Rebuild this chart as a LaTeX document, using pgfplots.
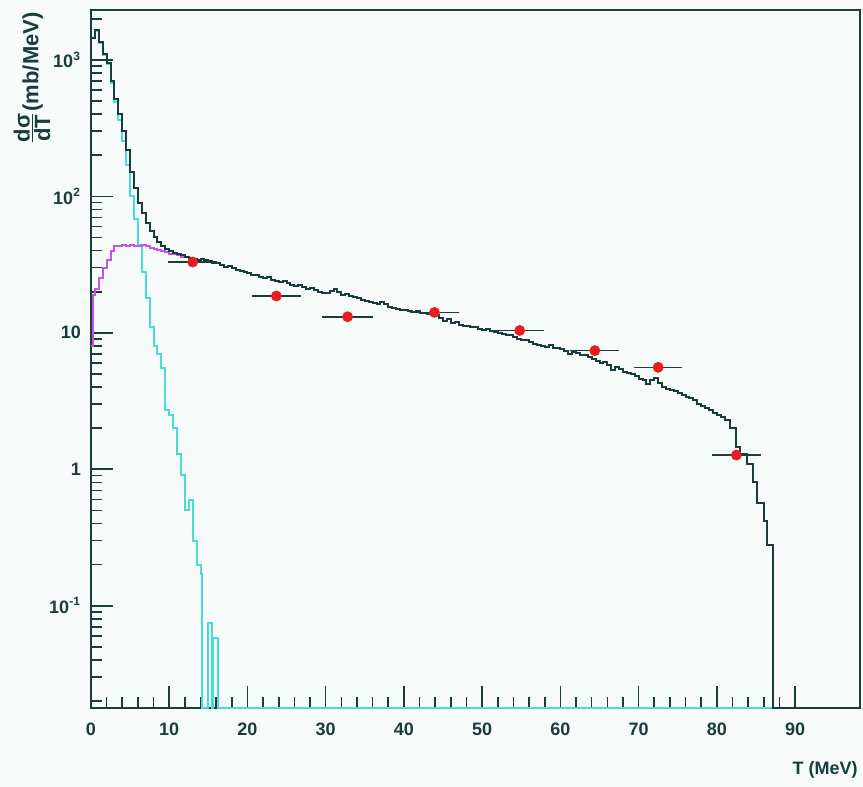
\documentclass[border=0pt]{standalone}
\usepackage{fontspec}
\setmainfont{Liberation Sans}
\usepackage{pgfplots}
\pgfplotsset{compat=1.18}
\definecolor{axcol}{RGB}{25,60,60}
\definecolor{bgcol}{RGB}{246,250,248}
\definecolor{cyanh}{RGB}{70,220,220}
\definecolor{magh}{RGB}{195,85,225}
\definecolor{redpt}{RGB}{230,30,30}
\begin{document}
\begin{tikzpicture}
\path[use as bounding box, fill=bgcol] (-45.5pt,-39.5pt) rectangle (386pt,354pt);
\begin{axis}[
  at={(0,0)}, anchor=south west,
  scale only axis, width=384.5pt, height=349pt,
  xmin=0, xmax=98.3, ymode=log, ymin=0.0178, ymax=2320,
  axis line style={line width=0.9pt, draw=axcol},
  tick style={line width=0.8pt, draw=axcol},
  tick align=inside, xtick pos=left, ytick pos=left,
  xtick={0,10,...,90}, minor x tick num=4,
  ytick={0.1,1,10,100,1000},
  yticklabels={10\textsuperscript{-1},1,10,10\textsuperscript{2},10\textsuperscript{3}},
  minor ytick={0.02,0.03,0.04,0.05,0.06,0.07,0.08,0.09,0.2,0.3,0.4,0.5,0.6,0.7,0.8,0.9,2,3,4,5,6,7,8,9,20,30,40,50,60,70,80,90,200,300,400,500,600,700,800,900,2000},
  major tick length=11pt, minor tick length=5.5pt,
  tick label style={font=\fontsize{9}{10}\selectfont\bfseries, text=axcol},
  /pgf/number format/assume math mode=true,
  xticklabel style={yshift=-4pt},
  yticklabel style={xshift=-1.5pt},
  clip=false,
]
% cyan component
\addplot[const plot, draw=cyanh, line width=1pt] coordinates {
(0,1440)(0.5,1630)(1,1330)(1.5,1080)(2,930)(2.5,680)(3,490)(3.5,360)(4,255)(4.5,170)(5,100)(5.5,68)(6,44)(6.5,28)(7,18)(7.5,11)(8,8)(8.5,7)(9,5.5)(9.5,2.7)(10,2.5)(10.5,2.0)(11,1.3)(11.5,0.9)(12,0.5)(12.5,0.6)(13,0.3)(13.5,0.2)(14,0.17)(14.2,0.0178)(14.9,0.075)(15.5,0.0178)(15.6,0.058)(16.2,0.0178)(98.3,0.0178)
};
% magenta component
\addplot[const plot, draw=magh, line width=1pt] coordinates {
(0,8)(0.25,19)(0.5,21)(1,25)(1.5,30)(2,34)(2.5,40)(3,43)(3.5,43.5)(4,44)(4.5,43)(5,44)(5.5,43)(6,43.5)(6.5,44)(7,43)(7.5,42)(8,41)(8.5,40.5)(9,40)(9.5,39)(10,38)(10.5,37.5)(11,37)(11.5,36)(12,36)
};
% total
\addplot[const plot, draw=axcol, line width=1pt] coordinates {
(0,1450)(0.5,1650)(1,1350)(1.5,1100)(2,950)(2.5,700)(3,520)(3.5,400)(4,300)(4.5,220)(5,150)(5.5,115)(6,90)(6.5,75)(7,64)(7.5,56)(8,50)(8.5,46)(9,43)(9.5,41)(10,39.5)(10.5,38.5)(11,38)(11.5,37)
(12,36)(12.5,35.5)(13,35)(13.5,34)(14,35)(14.5,34)(15,33.5)(15.5,32.5)(16,32.5)(16.5,31.5)(17,30.5)(17.5,31)(18,30)(18.5,29)(19,28.5)(19.5,28)(20,27.5)(20.5,26.5)(21,26.5)(21.5,25.5)(22,25)(22.5,25.5)(23,24.2)(23.5,23.8)(24,23.5)(24.5,23.8)(25,23)(25.5,22.5)(26,22)(26.5,22.3)(27,21.5)(27.5,21)(28,21.2)(28.5,20.5)(29,20)(29.5,19.6)(30,19.5)(30.5,20.3)(31,20.8)(31.5,20)(32,19)(32.5,19.2)(33,18.5)(33.5,18.3)(34,18)(34.5,17.4)(35,17.2)(35.5,16.8)(36,16.5)(36.5,16.3)(37,16.9)(37.5,16.2)(38,15.5)(38.5,15.3)(39,15)(39.5,14.8)(40,14.6)(40.5,14.4)(41,14.2)(41.5,14.4)(42,14)(42.5,13.9)(43,13.8)(43.5,14.1)(44,13.4)(44.5,12.9)(45,12.3)(45.5,12.6)(46,11.8)(46.5,12.0)(47,11.5)(47.5,11.3)(48,11.2)(48.5,11.0)(49,11)(49.5,10.6)(50,10.5)(50.5,10.6)(51,10.3)(51.5,10.1)(52,10)(52.5,9.8)(53,9.6)(53.5,9.7)(54,9.3)(54.5,9.0)(55,8.8)(55.5,8.9)(56,8.5)(56.5,8.3)(57,8.2)(57.5,8.0)(58,7.9)(58.5,8.1)(59,7.8)(59.5,7.7)(60,7.6)(60.5,7.3)(61,7.0)(61.5,7.2)(62,7.1)(62.5,6.9)(63,6.9)(63.5,6.6)(64,6.4)(64.5,6.2)(65,6.0)(65.5,6.1)(66,5.8)(66.5,5.3)(67,5.6)(67.5,5.4)(68,5.2)(68.5,5.1)(69,5.0)(69.5,4.8)(70,4.6)(70.5,4.5)(71,4.2)(71.5,4.5)(72,4.7)(72.5,4.3)(73,4.0)(73.5,3.9)(74,3.8)(74.5,3.75)(75,3.65)(75.5,3.5)(76,3.4)(76.5,3.3)(77,3.2)(77.5,3.0)(78,2.9)(78.5,2.8)(79,2.7)(79.5,2.6)(80,2.5)(80.5,2.4)(81,2.3)(81.7,2.0)(82.4,1.45)(83,1.3)(83.8,1.1)(84.6,0.8)(85.1,0.57)(86,0.42)(86.4,0.28)(87.2,0.0178)(98.3,0.0178)
};
% data points
\addplot[only marks, mark=*, mark size=2.5pt, mark options={fill=redpt, draw=redpt},
  error bars/.cd, x dir=both, x explicit,
  error bar style={line width=0.8pt, draw=axcol},
  error mark options={draw=axcol, line width=0.8pt, mark size=2.2pt}]
  coordinates {
(13.0,33) +- (2.6,0)
(23.7,18.6) +- (2.55,0)
(32.8,13.1) +- (2.65,0)
(43.9,14.1) +- (2.55,0)
(54.8,10.4) +- (2.6,0)
(64.4,7.4) +- (2.55,0)
(72.5,5.58) +- (2.5,0)
(82.5,1.27) +- (2.55,0)
};
\end{axis}
\node[rotate=90, anchor=east, inner sep=0pt, text=axcol, font=\fontsize{11}{12}\selectfont\bfseries] at (-29.5pt,348pt) {$\frac{\mbox{\fontsize{11}{12}\selectfont\bfseries dσ}}{\mbox{\fontsize{11}{12}\selectfont\bfseries dT}}$(mb/MeV)};
\node[anchor=east, inner sep=0pt, text=axcol, font=\fontsize{9}{10}\selectfont\bfseries] at (383.5pt,-31pt) {T (MeV)};
\end{tikzpicture}
\end{document}
